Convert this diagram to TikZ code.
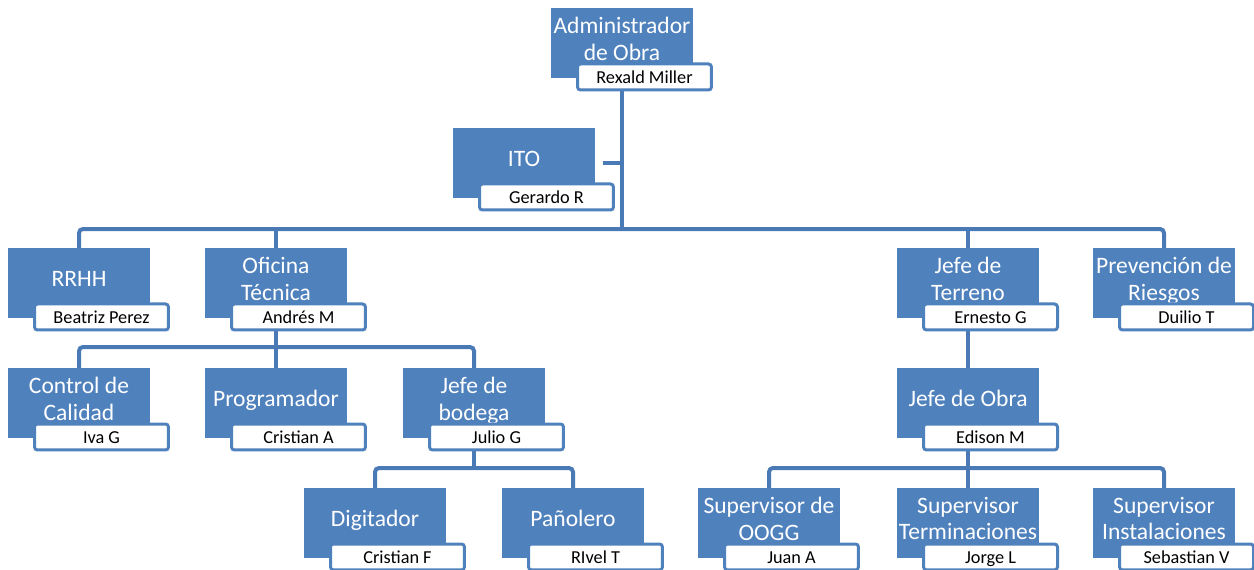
\documentclass[tikz,border=0pt]{standalone}
\usepackage{fontspec}
\setmainfont{Carlito}
\usetikzlibrary{backgrounds}
\definecolor{azul}{HTML}{4F81BD}
\definecolor{linea}{HTML}{4A7AB5}
\tikzset{
  caja/.style={fill=azul, text=white, minimum width=2.84cm, minimum height=1.4cm,
    inner sep=0pt, outer sep=0pt, align=center, text depth=5pt,
    font=\fontsize{13.4}{15.1}\selectfont},
  nombre/.style={draw=azul, fill=white, line width=0.06cm, rounded corners=0.06cm,
    minimum width=2.68cm, minimum height=0.52cm, inner sep=0pt, outer sep=0pt,
    text height=0.7em, text depth=0pt, font=\fontsize{10.4}{12}\selectfont},
  conector/.style={draw=linea, line width=0.08cm, rounded corners=0.08cm}
}
\newcommand{\puesto}[5]{%
  \node[caja] (#1) at (#2+71,#3+35) {#4};
  \node[nombre] (#1n) at (#2+93.5,#3+69) {#5};
}
\begin{document}
\begin{tikzpicture}[x=0.02cm, y=-0.02cm]
\useasboundingbox (0,0) rectangle (1254,570);
\puesto{adm}{551}{8}{Administrador\\de Obra}{Rexald Miller}
\puesto{ito}{453}{128}{ITO}{Gerardo R}
\puesto{rrhh}{8}{248}{RRHH}{Beatriz Perez}
\puesto{ofi}{205}{248}{Oficina\\Técnica}{Andrés M}
\puesto{terreno}{897}{248}{Jefe de\\Terreno}{Ernesto G}
\puesto{prev}{1093}{248}{Prevención de\\Riesgos}{Duilio T}
\puesto{cal}{8}{368}{Control de\\Calidad}{Iva G}
\puesto{prog}{205}{368}{Programador}{Cristian A}
\puesto{bod}{403}{368}{Jefe de\\bodega}{Julio G}
\puesto{obra}{897}{368}{Jefe de Obra}{Edison M}
\puesto{dig}{304}{488}{Digitador}{Cristian F}
\puesto{pan}{502}{488}{Pañolero}{RIvel T}
\puesto{oogg}{698}{488}{Supervisor de\\OOGG}{Juan A}
\puesto{term}{897}{488}{Supervisor\\Terminaciones}{Jorge L}
\puesto{inst}{1093}{488}{Supervisor\\Instalaciones}{Sebastian V}

\begin{scope}[on background layer]
\path (rrhh.north) ++(0,-19) coordinate (barra1);
\path (cal.north) ++(0,-21) coordinate (barra2);
\path (dig.north) ++(0,-20) coordinate (barra3);
\path (oogg.north) ++(0,-20) coordinate (barra4);
\draw[conector] (adm.south) -- (adm.south |- barra1);
\draw[conector] (ito.east) ++(8,0) -- (ito.east -| adm.south);
\draw[conector] (rrhh.north) -- (barra1) -| (prev.north);
\draw[conector] (ofi.north) -- (ofi.north |- barra1);
\draw[conector] (terreno.north) -- (terreno.north |- barra1);
\draw[conector] (cal.north) -- (barra2) -| (bod.north);
\draw[conector] (ofi.south) -- (ofi.south |- barra2);
\draw[conector] (prog.north) -- (prog.north |- barra2);
\draw[conector] (terreno.south) -- (obra.north);
\draw[conector] (dig.north) -- (barra3) -| (pan.north);
\draw[conector] (bod.south) -- (bod.south |- barra3);
\draw[conector] (oogg.north) -- (barra4) -| (inst.north);
\draw[conector] (obra.south) -- (obra.south |- barra4);
\draw[conector] (term.north) -- (term.north |- barra4);
\end{scope}
\end{tikzpicture}
\end{document}
